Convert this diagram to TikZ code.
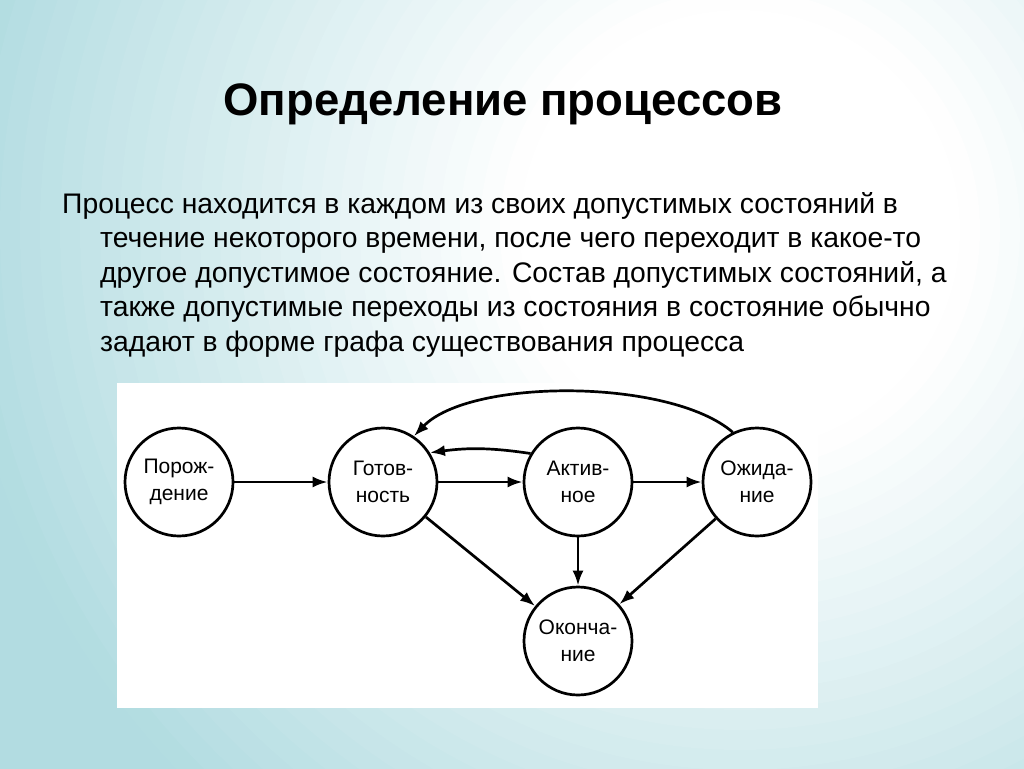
\documentclass[tikz,border=0pt]{standalone}
\usepackage{fontspec}
\setmainfont{Liberation Sans}
\usetikzlibrary{arrows.meta}
\definecolor{bgteal}{RGB}{178,220,225}
\begin{document}
\begin{tikzpicture}[x=1pt,y=-1pt,
  state/.style={circle,draw,line width=2.7,minimum size=108,inner sep=0,align=center,fill=white,
    font=\fontsize{21}{27}\selectfont},
  arr/.style={line width=2.7,-{Latex[length=15,width=11]}},
  bodyline/.style={anchor=base west,inner sep=0,font=\fontsize{28.3}{30}\selectfont}]
\useasboundingbox (0,0) rectangle (1024,768);
\begin{scope}
\clip (0,0) rectangle (1024,768);
\foreach \r in {1300,1280,...,200}{
  \pgfmathsetmacro\t{min(100,max(0,(\r-230)/5.6))}
  \fill[bgteal!\t!white] (740,230) circle (\r);
}
\end{scope}
\node[anchor=base,inner sep=0,font=\fontsize{45.5}{50}\selectfont\bfseries] (title) at (503,115) {Определение процессов};
\node[bodyline] (l1) at (62,213) {Процесс находится в каждом из своих допустимых состояний в};
\node[bodyline] (l2) at (100,247.5) {течение некоторого времени, после чего переходит в какое-то};
\node[bodyline] (l3) at (100,282) {другое допустимое состояние. Состав допустимых состояний, а};
\node[bodyline] (l4) at (100,316.5) {также допустимые переходы из состояния в состояние обычно};
\node[bodyline] (l5) at (100,351) {задают в форме графа существования процесса};
\fill[white] (117,383) rectangle (818,708);
\node[state] (por) at (179,482) {Порож-\\дение};
\node[state] (gotov) at (383,482) {Готов-\\ность};
\node[state] (akt) at (578,482) {Актив-\\ное};
\node[state] (ozh) at (757,482) {Ожида-\\ние};
\node[state] (okon) at (578,641) {Оконча-\\ние};
\draw[arr] (por) -- (gotov);
\draw[arr] (gotov) -- (akt);
\draw[arr] (akt) -- (ozh);
\draw[arr] (akt.149) to[bend right=8] (gotov.32);
\draw[arr] (ozh.116) .. controls (670,378) and (470,378) .. (gotov.56);
\draw[arr] (gotov) -- (okon);
\draw[arr] (akt) -- (okon);
\draw[arr] (ozh) -- (okon);
\end{tikzpicture}
\end{document}
